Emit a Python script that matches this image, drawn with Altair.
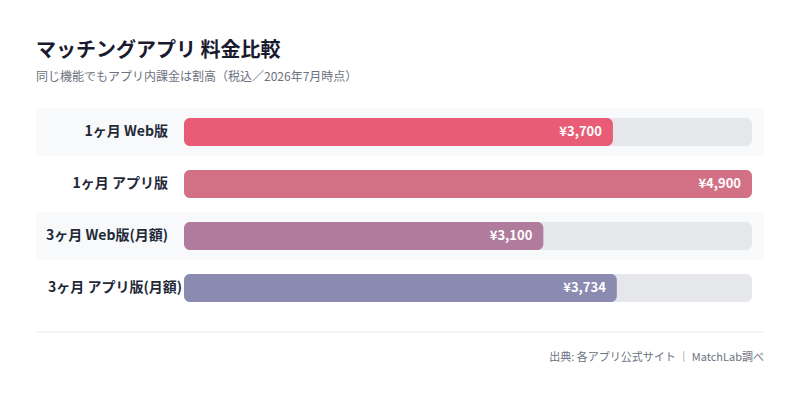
import altair as alt
import pandas as pd

categories = ["1ヶ月 Web版", "1ヶ月 アプリ版", "3ヶ月 Web版(月額)", "3ヶ月 アプリ版(月額)"]
prices = [3700, 4900, 3100, 3734]
bar_colors = ["#e85d75", "#d27086", "#b07b9c", "#8b8ab1"]

title_text = "マッチングアプリ 料金比較"
subtitle_text = "同じ機能でもアプリ内課金は割高（税込／2026年7月時点）"
footer_text = "出典: 各アプリ公式サイト ｜ MatchLab調べ"

FONT = "Noto Sans CJK JP"

df = pd.DataFrame({"plan": categories, "price": prices, "idx": list(range(len(categories)))})

W, H = 728, 208
xscale = alt.Scale(domain=[0, max(prices)], range=[148, 716], nice=False, zero=True)
yenc = alt.Y("plan:N", sort=categories, axis=None,
             scale=alt.Scale(paddingInner=0, paddingOuter=0))

base = alt.Chart(df)

bands = base.transform_filter("datum.idx % 2 == 0").mark_bar(
    height=48, cornerRadius=8, color="#f8f9fb"
).encode(x=alt.value(0), x2=alt.value(W), y=yenc)

track = base.transform_joinaggregate(track="max(price)").mark_bar(
    height=28, cornerRadius=6, color="#e5e7eb"
).encode(x=alt.X("track:Q", scale=xscale, axis=None), x2=alt.datum(0), y=yenc)

bars = base.mark_bar(height=28, cornerRadius=6).encode(
    x=alt.X("price:Q", scale=xscale, axis=None),
    x2=alt.datum(0),
    y=yenc,
    color=alt.Color("plan:N", sort=categories,
                    scale=alt.Scale(domain=categories, range=bar_colors), legend=None),
)

values = base.transform_calculate(
    lbl="'¥' + format(datum.price, ',')"
).mark_text(align="right", baseline="middle", dx=-11, font=FONT,
            fontSize=13, fontWeight="bold", color="#ffffff").encode(
    x=alt.X("price:Q", scale=xscale, axis=None), y=yenc, text="lbl:N")

labels_r = base.transform_filter("datum.idx < 3").mark_text(
    align="right", baseline="middle", font=FONT,
    fontSize=14, fontWeight="bold", color="#1f2937").encode(
    x=alt.value(132), y=yenc, text="plan:N")

labels_l = base.transform_filter("datum.idx >= 3").mark_text(
    align="left", baseline="middle", font=FONT,
    fontSize=14, fontWeight="bold", color="#1f2937").encode(
    x=alt.value(12), y=yenc, text="plan:N")

divider = alt.Chart(pd.DataFrame({"a": [0]})).mark_rule(
    color="#e5e7eb", strokeWidth=1
).encode(x=alt.value(0), x2=alt.value(W), y=alt.value(226))

footer = alt.Chart(pd.DataFrame({"t": [footer_text]})).mark_text(
    align="right", baseline="middle", font=FONT, fontSize=11, color="#6b7280"
).encode(x=alt.value(W), y=alt.value(252), text="t:N")

chart = alt.layer(bands, track, bars, values, labels_r, labels_l, divider, footer).properties(
    width=W, height=H,
    autosize=alt.AutoSizeParams(type="none"),
    padding={"left": 28, "top": 98, "right": 28, "bottom": 60},
    background="#ffffff",
    title=alt.TitleParams(
        text=title_text, subtitle=subtitle_text, anchor="start", frame="group",
        font=FONT, fontSize=20, fontWeight="bold", color="#1a1a2e",
        subtitleFont=FONT, subtitleFontSize=12, subtitleColor="#6b7280",
        subtitlePadding=11, offset=23,
    ),
).configure_view(stroke=None)

chart.save("out.html", embed_options={"renderer": "svg", "actions": False})
